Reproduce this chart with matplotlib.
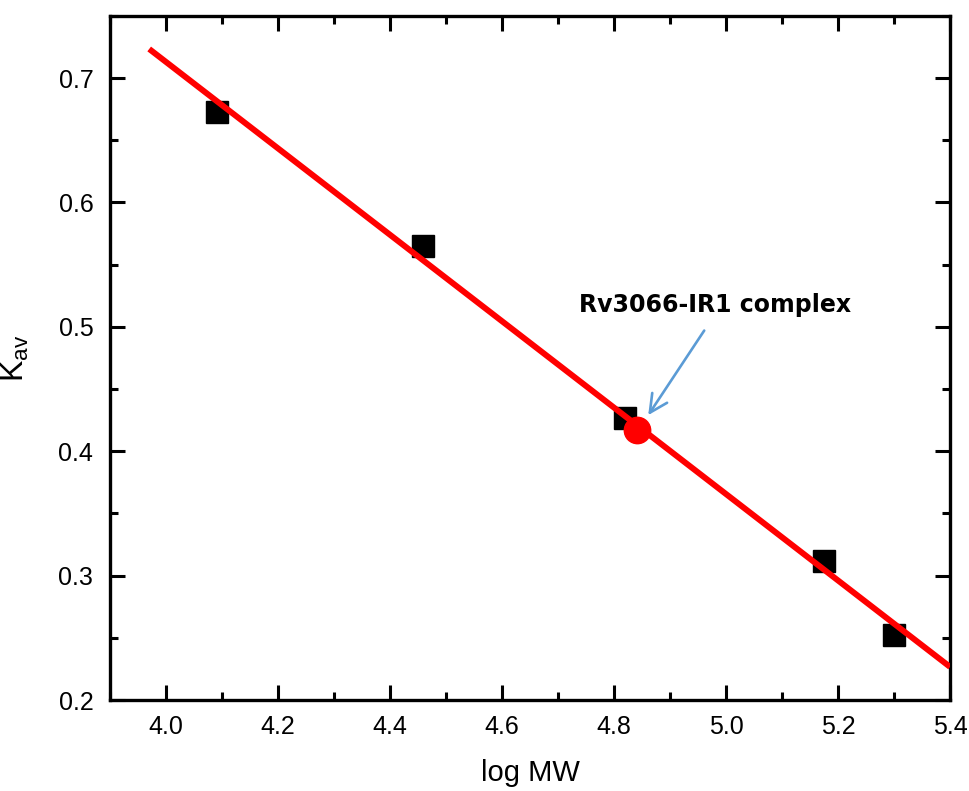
import numpy as np
from matplotlib import pyplot as plt
from matplotlib.ticker import MultipleLocator

# data
log_mw = [4.091, 4.459, 4.820, 5.175, 5.300]
k_av = [0.673, 0.565, 0.427, 0.312, 0.252]
complex_x = [4.841]
complex_y = [0.417]
fit_x_range = [3.97, 5.40]

plt.rcParams['font.family'] = ['Liberation Sans Narrow', 'Liberation Sans', 'DejaVu Sans']

fig = plt.figure(figsize=(9.69, 7.91), dpi=100)
ax = fig.add_axes([0.1135, 0.115, 0.867, 0.865])

# linear fit through the standards
slope, intercept = np.polyfit(log_mw, k_av, 1)
xs = np.array(fit_x_range)
ax.plot(xs, slope * xs + intercept, color='red', lw=4.3, zorder=3, solid_capstyle='butt')

ax.plot(log_mw, k_av, 's', color='black', markersize=16, zorder=2)
ax.plot(complex_x, complex_y, 'o', color='red', markersize=19, zorder=4)

# label and arrow
ax.text(4.98, 0.508, 'Rv3066-IR1 complex', ha='center', va='bottom',
        fontsize=17, fontweight='bold', family=['DejaVu Sans'])
ax.annotate('', xy=(4.861, 0.429), xytext=(4.961, 0.497),
            arrowprops=dict(arrowstyle='->', color='#5b9bd5', lw=1.9,
                            mutation_scale=32, shrinkA=0, shrinkB=0), zorder=5)

ax.set_xlim(3.9, 5.4)
ax.set_ylim(0.2, 0.75)
ax.xaxis.set_major_locator(MultipleLocator(0.2))
ax.xaxis.set_minor_locator(MultipleLocator(0.1))
ax.yaxis.set_major_locator(MultipleLocator(0.1))
ax.yaxis.set_minor_locator(MultipleLocator(0.05))
ax.xaxis.set_major_formatter(plt.FormatStrFormatter('%.1f'))
ax.yaxis.set_major_formatter(plt.FormatStrFormatter('%.1f'))

ax.tick_params(which='both', direction='in', top=True, right=True, width=2.2)
ax.tick_params(which='major', length=11, labelsize=18)
ax.tick_params(axis='y', which='major', pad=12)
ax.tick_params(axis='x', which='major', pad=11)
ax.tick_params(which='minor', length=6)

for s in ax.spines.values():
    s.set_linewidth(2.4)

ax.set_xlabel('log MW', fontsize=21, labelpad=14)
ax.set_ylabel(r'$\mathregular{K_{av}}$', fontsize=23, labelpad=20)

fig.savefig('out.png', dpi=100)
